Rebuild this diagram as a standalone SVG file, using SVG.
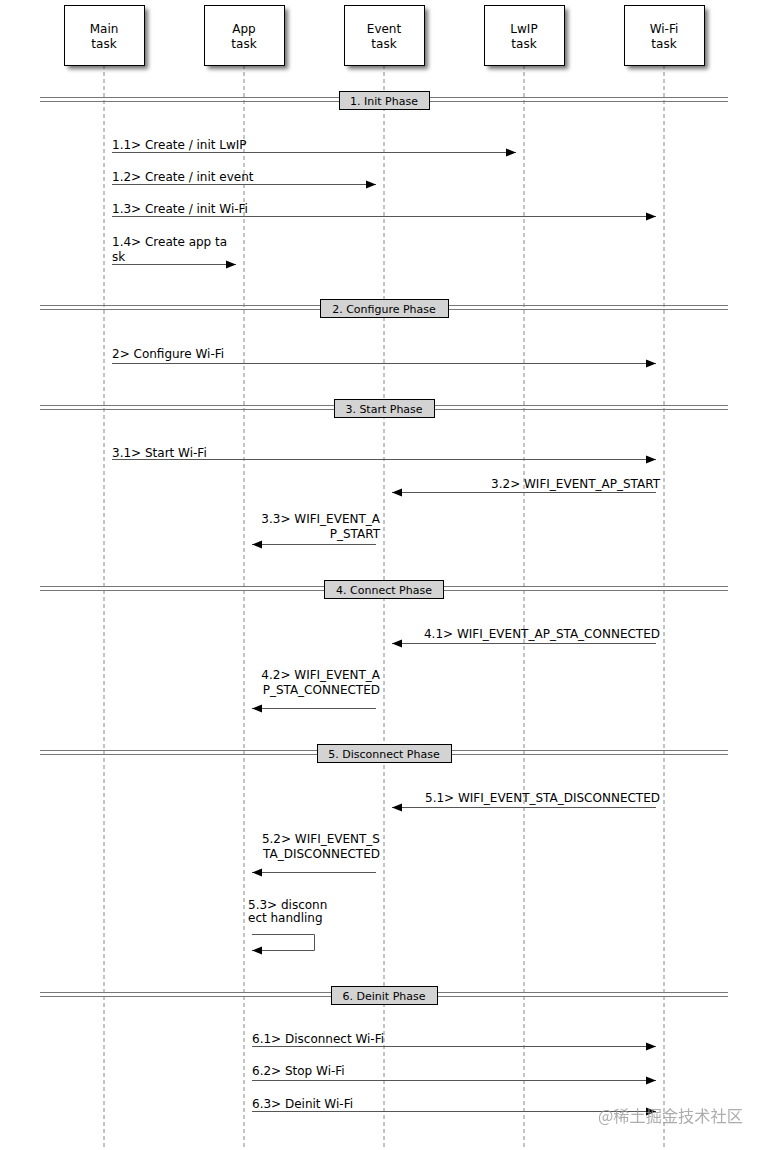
<svg xmlns="http://www.w3.org/2000/svg" width="768" height="1150" viewBox="0 0 768 1150">
<defs>
<marker id="ah" viewBox="0 0 10 10" refX="10" refY="5" markerWidth="10" markerHeight="10" markerUnits="userSpaceOnUse" orient="auto">
<path d="M0,1 L10,5 L0,9 Z" fill="#000"/>
</marker>
<filter id="sh" x="-20%" y="-20%" width="150%" height="150%">
<feGaussianBlur stdDeviation="2"/>
</filter>
</defs>
<style>
text{font-family:"DejaVu Sans",sans-serif;font-size:12px;fill:#000}
.nl{text-anchor:middle;font-size:12px}
.pl{text-anchor:middle;font-size:11px}
.r{text-anchor:end}
.life{stroke:#888;stroke-width:1;stroke-dasharray:4,3}
.msg{stroke:#555;stroke-width:1;fill:none}
.box{fill:#fff;stroke:#000;stroke-width:1}
.shadow{fill:#000;opacity:0.55}
.bar{stroke:#777;stroke-width:1}
.pbox{fill:#d3d3d3;stroke:#000;stroke-width:1}
</style>
<rect width="768" height="1150" fill="#fff"/>
<g id="lifelines">
<line class="life" x1="104" y1="65" x2="104" y2="1150"/>
<line class="life" x1="244" y1="65" x2="244" y2="1150"/>
<line class="life" x1="384" y1="65" x2="384" y2="1150"/>
<line class="life" x1="524" y1="65" x2="524" y2="1150"/>
<line class="life" x1="664" y1="65" x2="664" y2="1150"/>
</g>
<g id="main"><rect class="shadow" x="68" y="9" width="80" height="60" filter="url(#sh)"/><rect class="box" x="64.5" y="5.5" width="80" height="60"/><text class="nl" x="104" y="33">Main</text><text class="nl" x="104" y="48">task</text></g>
<g id="app"><rect class="shadow" x="208" y="9" width="80" height="60" filter="url(#sh)"/><rect class="box" x="204.5" y="5.5" width="80" height="60"/><text class="nl" x="244" y="33">App</text><text class="nl" x="244" y="48">task</text></g>
<g id="event"><rect class="shadow" x="348" y="9" width="80" height="60" filter="url(#sh)"/><rect class="box" x="344.5" y="5.5" width="80" height="60"/><text class="nl" x="384" y="33">Event</text><text class="nl" x="384" y="48">task</text></g>
<g id="lwip"><rect class="shadow" x="488" y="9" width="80" height="60" filter="url(#sh)"/><rect class="box" x="484.5" y="5.5" width="80" height="60"/><text class="nl" x="524" y="33">LwIP</text><text class="nl" x="524" y="48">task</text></g>
<g id="wifi"><rect class="shadow" x="628" y="9" width="80" height="60" filter="url(#sh)"/><rect class="box" x="624.5" y="5.5" width="80" height="60"/><text class="nl" x="664" y="33">Wi-Fi</text><text class="nl" x="664" y="48">task</text></g>
<g id="phases">
<line class="bar" x1="40" y1="97.5" x2="728" y2="97.5"/><line class="bar" x1="40" y1="101.5" x2="728" y2="101.5"/>
<rect class="pbox" x="339.5" y="91.5" width="90" height="18"/><text class="pl" x="384" y="104.5">1. Init Phase</text>
<line class="bar" x1="40" y1="305.5" x2="728" y2="305.5"/><line class="bar" x1="40" y1="309.5" x2="728" y2="309.5"/>
<rect class="pbox" x="320.5" y="299.5" width="128" height="18"/><text class="pl" x="384" y="312.5">2. Configure Phase</text>
<line class="bar" x1="40" y1="405.5" x2="728" y2="405.5"/><line class="bar" x1="40" y1="409.5" x2="728" y2="409.5"/>
<rect class="pbox" x="334.5" y="399.5" width="100" height="18"/><text class="pl" x="384" y="412.5">3. Start Phase</text>
<line class="bar" x1="40" y1="586.5" x2="728" y2="586.5"/><line class="bar" x1="40" y1="590.5" x2="728" y2="590.5"/>
<rect class="pbox" x="324.5" y="580.5" width="119" height="18"/><text class="pl" x="384" y="593.5">4. Connect Phase</text>
<line class="bar" x1="40" y1="750.5" x2="728" y2="750.5"/><line class="bar" x1="40" y1="754.5" x2="728" y2="754.5"/>
<rect class="pbox" x="317.5" y="744.5" width="134" height="18"/><text class="pl" x="384" y="757.5">5. Disconnect Phase</text>
<line class="bar" x1="40" y1="992.5" x2="728" y2="992.5"/><line class="bar" x1="40" y1="996.5" x2="728" y2="996.5"/>
<rect class="pbox" x="331.5" y="986.5" width="106" height="18"/><text class="pl" x="384" y="999.5">6. Deinit Phase</text>
</g>
<g id="connectors">
<line class="msg" x1="112" y1="152.5" x2="516" y2="152.5" marker-end="url(#ah)"/>
<line class="msg" x1="112" y1="184.5" x2="376" y2="184.5" marker-end="url(#ah)"/>
<line class="msg" x1="112" y1="216.5" x2="656" y2="216.5" marker-end="url(#ah)"/>
<line class="msg" x1="112" y1="264.5" x2="236" y2="264.5" marker-end="url(#ah)"/>
<line class="msg" x1="112" y1="363.5" x2="656" y2="363.5" marker-end="url(#ah)"/>
<line class="msg" x1="112" y1="459.5" x2="656" y2="459.5" marker-end="url(#ah)"/>
<line class="msg" x1="656" y1="492.5" x2="392" y2="492.5" marker-end="url(#ah)"/>
<line class="msg" x1="376" y1="544.5" x2="252" y2="544.5" marker-end="url(#ah)"/>
<line class="msg" x1="656" y1="643.5" x2="392" y2="643.5" marker-end="url(#ah)"/>
<line class="msg" x1="376" y1="708.5" x2="252" y2="708.5" marker-end="url(#ah)"/>
<line class="msg" x1="656" y1="807.5" x2="392" y2="807.5" marker-end="url(#ah)"/>
<line class="msg" x1="376" y1="872.5" x2="252" y2="872.5" marker-end="url(#ah)"/>
<polyline class="msg" points="252,934.5 314.5,934.5 314.5,950.5 252,950.5" marker-end="url(#ah)"/>
<line class="msg" x1="252" y1="1046.5" x2="656" y2="1046.5" marker-end="url(#ah)"/>
<line class="msg" x1="252" y1="1080.5" x2="656" y2="1080.5" marker-end="url(#ah)"/>
<line class="msg" x1="252" y1="1111.5" x2="656" y2="1111.5" marker-end="url(#ah)"/>
</g>
<g id="labels">
<text x="112" y="149">1.1&gt; Create / init LwIP</text>
<text x="112" y="181">1.2&gt; Create / init event</text>
<text x="112" y="213">1.3&gt; Create / init Wi-Fi</text>
<text x="112" y="246">1.4&gt; Create app ta</text>
<text x="112" y="261">sk</text>
<text x="112" y="358">2&gt; Configure Wi-Fi</text>
<text x="112" y="457">3.1&gt; Start Wi-Fi</text>
<text class="r" x="660" y="488">3.2&gt; WIFI_EVENT_AP_START</text>
<text class="r" x="380" y="523">3.3&gt; WIFI_EVENT_A</text>
<text class="r" x="380" y="538">P_START</text>
<text class="r" x="660" y="638">4.1&gt; WIFI_EVENT_AP_STA_CONNECTED</text>
<text class="r" x="380" y="679">4.2&gt; WIFI_EVENT_A</text>
<text class="r" x="380" y="694">P_STA_CONNECTED</text>
<text class="r" x="660" y="802">5.1&gt; WIFI_EVENT_STA_DISCONNECTED</text>
<text class="r" x="380" y="843">5.2&gt; WIFI_EVENT_S</text>
<text class="r" x="380" y="858">TA_DISCONNECTED</text>
<text x="248" y="909">5.3&gt; disconn</text>
<text x="248" y="922">ect handling</text>
<text x="252" y="1043">6.1&gt; Disconnect Wi-Fi</text>
<text x="252" y="1075">6.2&gt; Stop Wi-Fi</text>
<text x="252" y="1108">6.3&gt; Deinit Wi-Fi</text>
</g>
<text x="598" y="1122" style="font-family:'Noto Sans CJK SC',sans-serif;font-size:16.2px;fill:#999;opacity:0.8">@稀土掘金技术社区</text>
</svg>
